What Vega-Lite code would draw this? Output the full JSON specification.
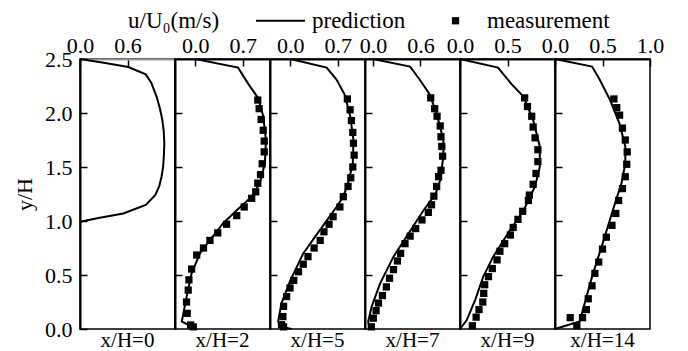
{
  "$schema": "https://vega.github.io/schema/vega-lite/v6.json",
  "padding": {"left": 12, "top": 9, "right": 0, "bottom": 0},
  "background": "white",
  "datasets": {
    "profiles": [
      {"p": "x/H=0", "k": "prediction", "i": 0, "u": 0, "y": 2.5},
      {"p": "x/H=0", "k": "prediction", "i": 1, "u": 0.3, "y": 2.466},
      {"p": "x/H=0", "k": "prediction", "i": 2, "u": 0.61, "y": 2.426},
      {"p": "x/H=0", "k": "prediction", "i": 3, "u": 0.83, "y": 2.358},
      {"p": "x/H=0", "k": "prediction", "i": 4, "u": 0.9, "y": 2.28},
      {"p": "x/H=0", "k": "prediction", "i": 5, "u": 0.968, "y": 2.15},
      {"p": "x/H=0", "k": "prediction", "i": 6, "u": 1.01, "y": 2.04},
      {"p": "x/H=0", "k": "prediction", "i": 7, "u": 1.04, "y": 1.935},
      {"p": "x/H=0", "k": "prediction", "i": 8, "u": 1.058, "y": 1.83},
      {"p": "x/H=0", "k": "prediction", "i": 9, "u": 1.065, "y": 1.72},
      {"p": "x/H=0", "k": "prediction", "i": 10, "u": 1.06, "y": 1.61},
      {"p": "x/H=0", "k": "prediction", "i": 11, "u": 1.05, "y": 1.5},
      {"p": "x/H=0", "k": "prediction", "i": 12, "u": 1.03, "y": 1.41},
      {"p": "x/H=0", "k": "prediction", "i": 13, "u": 1.0, "y": 1.32},
      {"p": "x/H=0", "k": "prediction", "i": 14, "u": 0.95, "y": 1.24},
      {"p": "x/H=0", "k": "prediction", "i": 15, "u": 0.83, "y": 1.148},
      {"p": "x/H=0", "k": "prediction", "i": 16, "u": 0.547, "y": 1.07},
      {"p": "x/H=0", "k": "prediction", "i": 17, "u": 0.25, "y": 1.03},
      {"p": "x/H=0", "k": "prediction", "i": 18, "u": 0, "y": 0.994},

      {"p": "x/H=2", "k": "prediction", "i": 0, "u": 0, "y": 2.5},
      {"p": "x/H=2", "k": "prediction", "i": 1, "u": 0.63, "y": 2.42},
      {"p": "x/H=2", "k": "prediction", "i": 2, "u": 0.78, "y": 2.27},
      {"p": "x/H=2", "k": "prediction", "i": 3, "u": 0.93, "y": 2.135},
      {"p": "x/H=2", "k": "prediction", "i": 4, "u": 1.0, "y": 1.97},
      {"p": "x/H=2", "k": "prediction", "i": 5, "u": 1.04, "y": 1.75},
      {"p": "x/H=2", "k": "prediction", "i": 6, "u": 1.025, "y": 1.534},
      {"p": "x/H=2", "k": "prediction", "i": 7, "u": 0.95, "y": 1.35},
      {"p": "x/H=2", "k": "prediction", "i": 8, "u": 0.83, "y": 1.225},
      {"p": "x/H=2", "k": "prediction", "i": 9, "u": 0.61, "y": 1.1},
      {"p": "x/H=2", "k": "prediction", "i": 10, "u": 0.41, "y": 0.98},
      {"p": "x/H=2", "k": "prediction", "i": 11, "u": 0.215, "y": 0.824},
      {"p": "x/H=2", "k": "prediction", "i": 12, "u": 0.068, "y": 0.7},
      {"p": "x/H=2", "k": "prediction", "i": 13, "u": -0.055, "y": 0.515},
      {"p": "x/H=2", "k": "prediction", "i": 14, "u": -0.128, "y": 0.3},
      {"p": "x/H=2", "k": "prediction", "i": 15, "u": -0.2, "y": 0.07},
      {"p": "x/H=2", "k": "prediction", "i": 16, "u": -0.08, "y": 0.028},
      {"p": "x/H=2", "k": "prediction", "i": 17, "u": 0, "y": 0},

      {"p": "x/H=5", "k": "prediction", "i": 0, "u": 0, "y": 2.5},
      {"p": "x/H=5", "k": "prediction", "i": 1, "u": 0.535, "y": 2.42},
      {"p": "x/H=5", "k": "prediction", "i": 2, "u": 0.68, "y": 2.31},
      {"p": "x/H=5", "k": "prediction", "i": 3, "u": 0.8, "y": 2.17},
      {"p": "x/H=5", "k": "prediction", "i": 4, "u": 0.88, "y": 1.98},
      {"p": "x/H=5", "k": "prediction", "i": 5, "u": 0.93, "y": 1.75},
      {"p": "x/H=5", "k": "prediction", "i": 6, "u": 0.92, "y": 1.53},
      {"p": "x/H=5", "k": "prediction", "i": 7, "u": 0.85, "y": 1.35},
      {"p": "x/H=5", "k": "prediction", "i": 8, "u": 0.78, "y": 1.225},
      {"p": "x/H=5", "k": "prediction", "i": 9, "u": 0.68, "y": 1.13},
      {"p": "x/H=5", "k": "prediction", "i": 10, "u": 0.44, "y": 0.92},
      {"p": "x/H=5", "k": "prediction", "i": 11, "u": 0.19, "y": 0.7},
      {"p": "x/H=5", "k": "prediction", "i": 12, "u": 0, "y": 0.45},
      {"p": "x/H=5", "k": "prediction", "i": 13, "u": -0.13, "y": 0.24},
      {"p": "x/H=5", "k": "prediction", "i": 14, "u": -0.18, "y": 0.07},
      {"p": "x/H=5", "k": "prediction", "i": 15, "u": -0.15, "y": 0.02},
      {"p": "x/H=5", "k": "prediction", "i": 16, "u": 0.02, "y": 0},

      {"p": "x/H=7", "k": "prediction", "i": 0, "u": 0, "y": 2.5},
      {"p": "x/H=7", "k": "prediction", "i": 1, "u": 0.47, "y": 2.43},
      {"p": "x/H=7", "k": "prediction", "i": 2, "u": 0.59, "y": 2.31},
      {"p": "x/H=7", "k": "prediction", "i": 3, "u": 0.72, "y": 2.17},
      {"p": "x/H=7", "k": "prediction", "i": 4, "u": 0.81, "y": 1.98},
      {"p": "x/H=7", "k": "prediction", "i": 5, "u": 0.89, "y": 1.75},
      {"p": "x/H=7", "k": "prediction", "i": 6, "u": 0.89, "y": 1.6},
      {"p": "x/H=7", "k": "prediction", "i": 7, "u": 0.85, "y": 1.38},
      {"p": "x/H=7", "k": "prediction", "i": 8, "u": 0.79, "y": 1.25},
      {"p": "x/H=7", "k": "prediction", "i": 9, "u": 0.64, "y": 1.1},
      {"p": "x/H=7", "k": "prediction", "i": 10, "u": 0.45, "y": 0.885},
      {"p": "x/H=7", "k": "prediction", "i": 11, "u": 0.26, "y": 0.67},
      {"p": "x/H=7", "k": "prediction", "i": 12, "u": 0.09, "y": 0.42},
      {"p": "x/H=7", "k": "prediction", "i": 13, "u": -0.015, "y": 0.21},
      {"p": "x/H=7", "k": "prediction", "i": 14, "u": -0.06, "y": 0.07},
      {"p": "x/H=7", "k": "prediction", "i": 15, "u": -0.04, "y": 0},

      {"p": "x/H=9", "k": "prediction", "i": 0, "u": 0, "y": 2.5},
      {"p": "x/H=9", "k": "prediction", "i": 1, "u": 0.4, "y": 2.42},
      {"p": "x/H=9", "k": "prediction", "i": 2, "u": 0.54, "y": 2.27},
      {"p": "x/H=9", "k": "prediction", "i": 3, "u": 0.67, "y": 2.15},
      {"p": "x/H=9", "k": "prediction", "i": 4, "u": 0.77, "y": 1.935},
      {"p": "x/H=9", "k": "prediction", "i": 5, "u": 0.84, "y": 1.69},
      {"p": "x/H=9", "k": "prediction", "i": 6, "u": 0.84, "y": 1.5},
      {"p": "x/H=9", "k": "prediction", "i": 7, "u": 0.79, "y": 1.32},
      {"p": "x/H=9", "k": "prediction", "i": 8, "u": 0.67, "y": 1.1},
      {"p": "x/H=9", "k": "prediction", "i": 9, "u": 0.53, "y": 0.92},
      {"p": "x/H=9", "k": "prediction", "i": 10, "u": 0.35, "y": 0.67},
      {"p": "x/H=9", "k": "prediction", "i": 11, "u": 0.245, "y": 0.485},
      {"p": "x/H=9", "k": "prediction", "i": 12, "u": 0.16, "y": 0.27},
      {"p": "x/H=9", "k": "prediction", "i": 13, "u": 0.07, "y": 0.08},
      {"p": "x/H=9", "k": "prediction", "i": 14, "u": 0, "y": 0},

      {"p": "x/H=14", "k": "prediction", "i": 0, "u": 0, "y": 2.5},
      {"p": "x/H=14", "k": "prediction", "i": 1, "u": 0.39, "y": 2.43},
      {"p": "x/H=14", "k": "prediction", "i": 2, "u": 0.47, "y": 2.31},
      {"p": "x/H=14", "k": "prediction", "i": 3, "u": 0.58, "y": 2.12},
      {"p": "x/H=14", "k": "prediction", "i": 4, "u": 0.68, "y": 1.9},
      {"p": "x/H=14", "k": "prediction", "i": 5, "u": 0.74, "y": 1.69},
      {"p": "x/H=14", "k": "prediction", "i": 6, "u": 0.74, "y": 1.53},
      {"p": "x/H=14", "k": "prediction", "i": 7, "u": 0.7, "y": 1.35},
      {"p": "x/H=14", "k": "prediction", "i": 8, "u": 0.63, "y": 1.16},
      {"p": "x/H=14", "k": "prediction", "i": 9, "u": 0.49, "y": 0.76},
      {"p": "x/H=14", "k": "prediction", "i": 10, "u": 0.39, "y": 0.485},
      {"p": "x/H=14", "k": "prediction", "i": 11, "u": 0.26, "y": 0.07},
      {"p": "x/H=14", "k": "prediction", "i": 12, "u": 0, "y": 0},

      {"p": "x/H=2", "k": "measurement", "u": 0.92, "y": 2.12},
      {"p": "x/H=2", "k": "measurement", "u": 0.94, "y": 2.04},
      {"p": "x/H=2", "k": "measurement", "u": 0.97, "y": 1.94},
      {"p": "x/H=2", "k": "measurement", "u": 1.0, "y": 1.84},
      {"p": "x/H=2", "k": "measurement", "u": 1.015, "y": 1.74},
      {"p": "x/H=2", "k": "measurement", "u": 1.015, "y": 1.64},
      {"p": "x/H=2", "k": "measurement", "u": 0.985, "y": 1.53},
      {"p": "x/H=2", "k": "measurement", "u": 0.96, "y": 1.43},
      {"p": "x/H=2", "k": "measurement", "u": 0.92, "y": 1.35},
      {"p": "x/H=2", "k": "measurement", "u": 0.89, "y": 1.27},
      {"p": "x/H=2", "k": "measurement", "u": 0.83, "y": 1.21},
      {"p": "x/H=2", "k": "measurement", "u": 0.72, "y": 1.13},
      {"p": "x/H=2", "k": "measurement", "u": 0.61, "y": 1.05},
      {"p": "x/H=2", "k": "measurement", "u": 0.46, "y": 0.97},
      {"p": "x/H=2", "k": "measurement", "u": 0.33, "y": 0.89},
      {"p": "x/H=2", "k": "measurement", "u": 0.215, "y": 0.82},
      {"p": "x/H=2", "k": "measurement", "u": 0.12, "y": 0.75},
      {"p": "x/H=2", "k": "measurement", "u": 0.02, "y": 0.685},
      {"p": "x/H=2", "k": "measurement", "u": -0.055, "y": 0.555},
      {"p": "x/H=2", "k": "measurement", "u": -0.095, "y": 0.455},
      {"p": "x/H=2", "k": "measurement", "u": -0.105, "y": 0.36},
      {"p": "x/H=2", "k": "measurement", "u": -0.13, "y": 0.25},
      {"p": "x/H=2", "k": "measurement", "u": -0.12, "y": 0.145},
      {"p": "x/H=2", "k": "measurement", "u": -0.07, "y": 0.037},
      {"p": "x/H=2", "k": "measurement", "u": -0.03, "y": 0.02},

      {"p": "x/H=5", "k": "measurement", "u": 0.84, "y": 2.13},
      {"p": "x/H=5", "k": "measurement", "u": 0.88, "y": 2.03},
      {"p": "x/H=5", "k": "measurement", "u": 0.9, "y": 1.93},
      {"p": "x/H=5", "k": "measurement", "u": 0.92, "y": 1.82},
      {"p": "x/H=5", "k": "measurement", "u": 0.93, "y": 1.72},
      {"p": "x/H=5", "k": "measurement", "u": 0.94, "y": 1.61},
      {"p": "x/H=5", "k": "measurement", "u": 0.92, "y": 1.5},
      {"p": "x/H=5", "k": "measurement", "u": 0.89, "y": 1.4},
      {"p": "x/H=5", "k": "measurement", "u": 0.85, "y": 1.32},
      {"p": "x/H=5", "k": "measurement", "u": 0.78, "y": 1.225},
      {"p": "x/H=5", "k": "measurement", "u": 0.73, "y": 1.13},
      {"p": "x/H=5", "k": "measurement", "u": 0.63, "y": 1.04},
      {"p": "x/H=5", "k": "measurement", "u": 0.57, "y": 0.97},
      {"p": "x/H=5", "k": "measurement", "u": 0.495, "y": 0.9},
      {"p": "x/H=5", "k": "measurement", "u": 0.44, "y": 0.82},
      {"p": "x/H=5", "k": "measurement", "u": 0.35, "y": 0.75},
      {"p": "x/H=5", "k": "measurement", "u": 0.26, "y": 0.67},
      {"p": "x/H=5", "k": "measurement", "u": 0.19, "y": 0.6},
      {"p": "x/H=5", "k": "measurement", "u": 0.12, "y": 0.53},
      {"p": "x/H=5", "k": "measurement", "u": 0.05, "y": 0.45},
      {"p": "x/H=5", "k": "measurement", "u": -0.005, "y": 0.38},
      {"p": "x/H=5", "k": "measurement", "u": -0.055, "y": 0.3},
      {"p": "x/H=5", "k": "measurement", "u": -0.1, "y": 0.21},
      {"p": "x/H=5", "k": "measurement", "u": -0.11, "y": 0.115},
      {"p": "x/H=5", "k": "measurement", "u": -0.13, "y": 0.04},
      {"p": "x/H=5", "k": "measurement", "u": -0.1, "y": 0.02},

      {"p": "x/H=7", "k": "measurement", "u": 0.73, "y": 2.14},
      {"p": "x/H=7", "k": "measurement", "u": 0.78, "y": 2.04},
      {"p": "x/H=7", "k": "measurement", "u": 0.81, "y": 1.97},
      {"p": "x/H=7", "k": "measurement", "u": 0.85, "y": 1.88},
      {"p": "x/H=7", "k": "measurement", "u": 0.86, "y": 1.78},
      {"p": "x/H=7", "k": "measurement", "u": 0.87, "y": 1.69},
      {"p": "x/H=7", "k": "measurement", "u": 0.88, "y": 1.6},
      {"p": "x/H=7", "k": "measurement", "u": 0.86, "y": 1.47},
      {"p": "x/H=7", "k": "measurement", "u": 0.83, "y": 1.41},
      {"p": "x/H=7", "k": "measurement", "u": 0.805, "y": 1.32},
      {"p": "x/H=7", "k": "measurement", "u": 0.77, "y": 1.23},
      {"p": "x/H=7", "k": "measurement", "u": 0.74, "y": 1.15},
      {"p": "x/H=7", "k": "measurement", "u": 0.7, "y": 1.08},
      {"p": "x/H=7", "k": "measurement", "u": 0.62, "y": 1.01},
      {"p": "x/H=7", "k": "measurement", "u": 0.54, "y": 0.93},
      {"p": "x/H=7", "k": "measurement", "u": 0.47, "y": 0.86},
      {"p": "x/H=7", "k": "measurement", "u": 0.405, "y": 0.79},
      {"p": "x/H=7", "k": "measurement", "u": 0.35, "y": 0.7},
      {"p": "x/H=7", "k": "measurement", "u": 0.31, "y": 0.63},
      {"p": "x/H=7", "k": "measurement", "u": 0.26, "y": 0.55},
      {"p": "x/H=7", "k": "measurement", "u": 0.21, "y": 0.47},
      {"p": "x/H=7", "k": "measurement", "u": 0.17, "y": 0.39},
      {"p": "x/H=7", "k": "measurement", "u": 0.12, "y": 0.31},
      {"p": "x/H=7", "k": "measurement", "u": 0.07, "y": 0.24},
      {"p": "x/H=7", "k": "measurement", "u": 0.04, "y": 0.17},
      {"p": "x/H=7", "k": "measurement", "u": 0.005, "y": 0.1},
      {"p": "x/H=7", "k": "measurement", "u": -0.02, "y": 0.02},

      {"p": "x/H=9", "k": "measurement", "u": 0.68, "y": 2.14},
      {"p": "x/H=9", "k": "measurement", "u": 0.71, "y": 2.06},
      {"p": "x/H=9", "k": "measurement", "u": 0.755, "y": 1.97},
      {"p": "x/H=9", "k": "measurement", "u": 0.77, "y": 1.87},
      {"p": "x/H=9", "k": "measurement", "u": 0.79, "y": 1.77},
      {"p": "x/H=9", "k": "measurement", "u": 0.82, "y": 1.66},
      {"p": "x/H=9", "k": "measurement", "u": 0.82, "y": 1.55},
      {"p": "x/H=9", "k": "measurement", "u": 0.8, "y": 1.44},
      {"p": "x/H=9", "k": "measurement", "u": 0.77, "y": 1.34},
      {"p": "x/H=9", "k": "measurement", "u": 0.73, "y": 1.24},
      {"p": "x/H=9", "k": "measurement", "u": 0.72, "y": 1.19},
      {"p": "x/H=9", "k": "measurement", "u": 0.66, "y": 1.09},
      {"p": "x/H=9", "k": "measurement", "u": 0.61, "y": 1.015},
      {"p": "x/H=9", "k": "measurement", "u": 0.56, "y": 0.94},
      {"p": "x/H=9", "k": "measurement", "u": 0.53, "y": 0.87},
      {"p": "x/H=9", "k": "measurement", "u": 0.47, "y": 0.79},
      {"p": "x/H=9", "k": "measurement", "u": 0.42, "y": 0.72},
      {"p": "x/H=9", "k": "measurement", "u": 0.39, "y": 0.64},
      {"p": "x/H=9", "k": "measurement", "u": 0.34, "y": 0.56},
      {"p": "x/H=9", "k": "measurement", "u": 0.3, "y": 0.485},
      {"p": "x/H=9", "k": "measurement", "u": 0.26, "y": 0.41},
      {"p": "x/H=9", "k": "measurement", "u": 0.25, "y": 0.33},
      {"p": "x/H=9", "k": "measurement", "u": 0.24, "y": 0.25},
      {"p": "x/H=9", "k": "measurement", "u": 0.2, "y": 0.18},
      {"p": "x/H=9", "k": "measurement", "u": 0.17, "y": 0.11},
      {"p": "x/H=9", "k": "measurement", "u": 0.13, "y": 0.03},

      {"p": "x/H=14", "k": "measurement", "u": 0.62, "y": 2.13},
      {"p": "x/H=14", "k": "measurement", "u": 0.65, "y": 2.05},
      {"p": "x/H=14", "k": "measurement", "u": 0.68, "y": 1.98},
      {"p": "x/H=14", "k": "measurement", "u": 0.71, "y": 1.86},
      {"p": "x/H=14", "k": "measurement", "u": 0.74, "y": 1.75},
      {"p": "x/H=14", "k": "measurement", "u": 0.76, "y": 1.64},
      {"p": "x/H=14", "k": "measurement", "u": 0.755, "y": 1.525},
      {"p": "x/H=14", "k": "measurement", "u": 0.74, "y": 1.41},
      {"p": "x/H=14", "k": "measurement", "u": 0.71, "y": 1.3},
      {"p": "x/H=14", "k": "measurement", "u": 0.67, "y": 1.19},
      {"p": "x/H=14", "k": "measurement", "u": 0.64, "y": 1.07},
      {"p": "x/H=14", "k": "measurement", "u": 0.6, "y": 0.96},
      {"p": "x/H=14", "k": "measurement", "u": 0.54, "y": 0.85},
      {"p": "x/H=14", "k": "measurement", "u": 0.5, "y": 0.74},
      {"p": "x/H=14", "k": "measurement", "u": 0.46, "y": 0.62},
      {"p": "x/H=14", "k": "measurement", "u": 0.42, "y": 0.515},
      {"p": "x/H=14", "k": "measurement", "u": 0.39, "y": 0.4},
      {"p": "x/H=14", "k": "measurement", "u": 0.35, "y": 0.28},
      {"p": "x/H=14", "k": "measurement", "u": 0.33, "y": 0.18},
      {"p": "x/H=14", "k": "measurement", "u": 0.29, "y": 0.105},
      {"p": "x/H=14", "k": "measurement", "u": 0.16, "y": 0.105},
      {"p": "x/H=14", "k": "measurement", "u": 0.23, "y": 0.03}
    ]
  },
  "data": {"name": "profiles"},
  "hconcat": [
    {
      "width": 95, "height": 270,
      "title": {"text": "x/H=0", "offset": -10},
      "transform": [{"filter": "datum.p === 'x/H=0'"}],
      "mark": {"type": "line", "color": "black", "strokeWidth": 2},
      "encoding": {
        "x": {"field": "u", "type": "quantitative", "scale": {"domain": [0, 1.2], "nice": false, "zero": false},
              "axis": {"orient": "top", "values": [0, 0.6], "format": ".1f", "title": null, "domainColor": "#999999"}},
        "y": {"field": "y", "type": "quantitative", "scale": {"domain": [0, 2.5], "nice": false},
              "axis": {"values": [0, 0.5, 1, 1.5, 2, 2.5], "format": ".1f", "title": "y/H", "titlePadding": 8}},
        "order": {"field": "i", "type": "quantitative"}
      }
    },
    {
      "width": 95, "height": 270,
      "title": "x/H=2",
      "transform": [{"filter": "datum.p === 'x/H=2'"}],
      "encoding": {
        "x": {"field": "u", "type": "quantitative", "scale": {"domain": [-0.3, 1.1], "nice": false, "zero": false},
              "axis": {"orient": "top", "values": [0, 0.7], "format": ".1f", "title": null}},
        "y": {"field": "y", "type": "quantitative", "scale": {"domain": [0, 2.5], "nice": false},
              "axis": {"values": [0.5, 1, 1.5, 2], "labels": false, "title": null}}
      },
      "layer": [
        {"transform": [{"filter": "datum.k === 'prediction'"}],
         "mark": {"type": "line", "color": "black", "strokeWidth": 2},
         "encoding": {"order": {"field": "i", "type": "quantitative"}}},
        {"transform": [{"filter": "datum.k === 'measurement'"}],
         "mark": {"type": "point", "filled": true, "color": "black", "opacity": 1, "size": 384},
         "encoding": {"shape": {"field": "k", "type": "nominal", "title": "u/U₀(m/s)",
           "scale": {"domain": ["prediction", "measurement"], "range": ["M-2.5,-0.1H2.5V0.1H-2.5Z", "M-0.37,-0.37H0.37V0.37H-0.37Z"]}}}}
      ]
    },
    {
      "width": 95, "height": 270,
      "title": "x/H=5",
      "transform": [{"filter": "datum.p === 'x/H=5'"}],
      "encoding": {
        "x": {"field": "u", "type": "quantitative", "scale": {"domain": [-0.3, 1.1], "nice": false, "zero": false},
              "axis": {"orient": "top", "values": [0, 0.7], "format": ".1f", "title": null}},
        "y": {"field": "y", "type": "quantitative", "scale": {"domain": [0, 2.5], "nice": false},
              "axis": {"values": [0.5, 1, 1.5, 2], "labels": false, "title": null}}
      },
      "layer": [
        {"transform": [{"filter": "datum.k === 'prediction'"}],
         "mark": {"type": "line", "color": "black", "strokeWidth": 2},
         "encoding": {"order": {"field": "i", "type": "quantitative"}}},
        {"transform": [{"filter": "datum.k === 'measurement'"}],
         "mark": {"type": "point", "filled": true, "color": "black", "opacity": 1, "size": 384},
         "encoding": {"shape": {"field": "k", "type": "nominal", "title": "u/U₀(m/s)",
           "scale": {"domain": ["prediction", "measurement"], "range": ["M-2.5,-0.1H2.5V0.1H-2.5Z", "M-0.37,-0.37H0.37V0.37H-0.37Z"]}}}}
      ]
    },
    {
      "width": 95, "height": 270,
      "title": "x/H=7",
      "transform": [{"filter": "datum.p === 'x/H=7'"}],
      "encoding": {
        "x": {"field": "u", "type": "quantitative", "scale": {"domain": [-0.1, 1.1], "nice": false, "zero": false},
              "axis": {"orient": "top", "values": [0, 0.6], "format": ".1f", "title": null}},
        "y": {"field": "y", "type": "quantitative", "scale": {"domain": [0, 2.5], "nice": false},
              "axis": {"values": [0.5, 1, 1.5, 2], "labels": false, "title": null}}
      },
      "layer": [
        {"transform": [{"filter": "datum.k === 'prediction'"}],
         "mark": {"type": "line", "color": "black", "strokeWidth": 2},
         "encoding": {"order": {"field": "i", "type": "quantitative"}}},
        {"transform": [{"filter": "datum.k === 'measurement'"}],
         "mark": {"type": "point", "filled": true, "color": "black", "opacity": 1, "size": 384},
         "encoding": {"shape": {"field": "k", "type": "nominal", "title": "u/U₀(m/s)",
           "scale": {"domain": ["prediction", "measurement"], "range": ["M-2.5,-0.1H2.5V0.1H-2.5Z", "M-0.37,-0.37H0.37V0.37H-0.37Z"]}}}}
      ]
    },
    {
      "width": 95, "height": 270,
      "title": "x/H=9",
      "transform": [{"filter": "datum.p === 'x/H=9'"}],
      "encoding": {
        "x": {"field": "u", "type": "quantitative", "scale": {"domain": [0, 1], "nice": false, "zero": false},
              "axis": {"orient": "top", "values": [0, 0.5], "format": ".1f", "title": null}},
        "y": {"field": "y", "type": "quantitative", "scale": {"domain": [0, 2.5], "nice": false},
              "axis": {"values": [0.5, 1, 1.5, 2], "labels": false, "title": null}}
      },
      "layer": [
        {"transform": [{"filter": "datum.k === 'prediction'"}],
         "mark": {"type": "line", "color": "black", "strokeWidth": 2},
         "encoding": {"order": {"field": "i", "type": "quantitative"}}},
        {"transform": [{"filter": "datum.k === 'measurement'"}],
         "mark": {"type": "point", "filled": true, "color": "black", "opacity": 1, "size": 384},
         "encoding": {"shape": {"field": "k", "type": "nominal", "title": "u/U₀(m/s)",
           "scale": {"domain": ["prediction", "measurement"], "range": ["M-2.5,-0.1H2.5V0.1H-2.5Z", "M-0.37,-0.37H0.37V0.37H-0.37Z"]}}}}
      ]
    },
    {
      "width": 95, "height": 270,
      "title": "x/H=14",
      "transform": [{"filter": "datum.p === 'x/H=14'"}],
      "encoding": {
        "x": {"field": "u", "type": "quantitative", "scale": {"domain": [0, 1], "nice": false, "zero": false},
              "axis": {"orient": "top", "values": [0, 0.5, 1], "format": ".1f", "title": null}},
        "y": {"field": "y", "type": "quantitative", "scale": {"domain": [0, 2.5], "nice": false},
              "axis": {"values": [0.5, 1, 1.5, 2], "labels": false, "title": null}}
      },
      "layer": [
        {"transform": [{"filter": "datum.k === 'prediction'"}],
         "mark": {"type": "line", "color": "black", "strokeWidth": 2},
         "encoding": {"order": {"field": "i", "type": "quantitative"}}},
        {"transform": [{"filter": "datum.k === 'measurement'"}],
         "mark": {"type": "point", "filled": true, "color": "black", "opacity": 1, "size": 384},
         "encoding": {"shape": {"field": "k", "type": "nominal", "title": "u/U₀(m/s)",
           "scale": {"domain": ["prediction", "measurement"], "range": ["M-2.5,-0.1H2.5V0.1H-2.5Z", "M-0.37,-0.37H0.37V0.37H-0.37Z"]}}}}
      ]
    }
  ],
  "spacing": 0,
  "bounds": "flush",
  "resolve": {
    "scale": {"x": "independent", "y": "shared", "shape": "shared"},
    "axis": {"x": "independent", "y": "independent"},
    "legend": {"shape": "shared"}
  },
  "config": {
    "font": "Liberation Serif",
    "view": {"stroke": "black", "strokeWidth": 1.5},
    "axis": {
      "grid": false,
      "domainColor": "black", "domainWidth": 2,
      "tickColor": "black", "tickSize": -7, "tickWidth": 1.5,
      "labelFont": "Liberation Serif", "labelFontSize": 22, "labelColor": "black",
      "labelFlush": false, "labelOverlap": false,
      "titleFont": "Liberation Serif", "titleFontSize": 22, "titleFontWeight": "normal", "titleColor": "black"
    },
    "axisX": {"labelPadding": 9},
    "axisY": {"labelPadding": 15},
    "title": {"orient": "bottom", "anchor": "middle", "font": "Liberation Serif", "fontSize": 21, "fontWeight": "normal", "color": "black", "offset": -3},
    "legend": {
      "orient": "none", "legendX": 48, "legendY": -50,
      "direction": "horizontal",
      "titleOrient": "left", "titlePadding": 49, "titleAnchor": "middle", "titleBaseline": "middle",
      "titleFont": "Liberation Serif", "titleFontSize": 23, "titleFontWeight": "normal", "titleColor": "black",
      "labelFont": "Liberation Serif", "labelFontSize": 23, "labelColor": "black",
      "symbolSize": 384, "symbolFillColor": "black", "symbolStrokeWidth": 0,
      "labelOffset": 20, "columnPadding": 38
    }
  }
}
